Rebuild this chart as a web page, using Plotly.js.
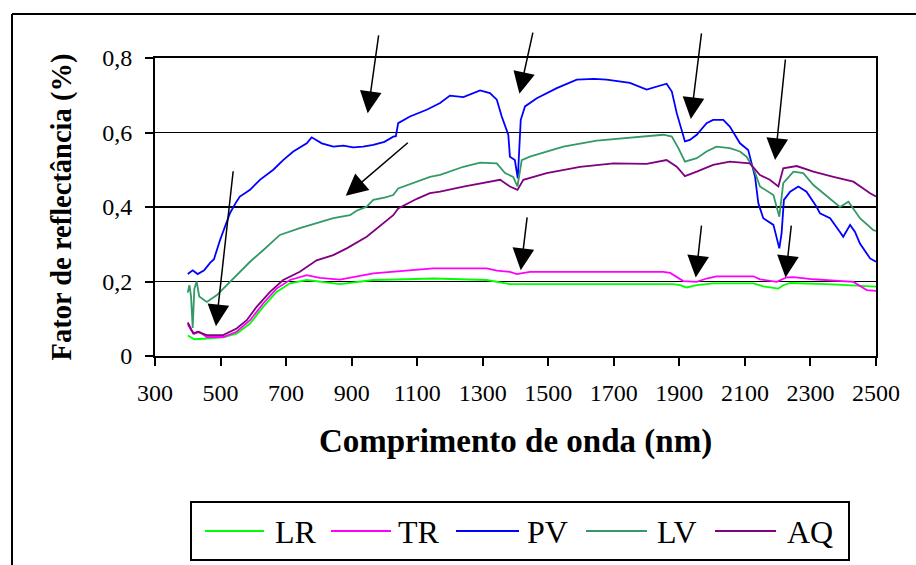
<!DOCTYPE html>
<html>
<head>
<meta charset="utf-8">
<script src="https://cdn.plot.ly/plotly-3.0.1.min.js"></script>
<style>
  html, body { margin: 0; padding: 0; background: #fff; }
  #chart { width: 916px; height: 565px; }
</style>
</head>
<body>
<div id="chart"></div>
<script>
// ---- Data ----
const seriesNames = ["LR", "TR", "PV", "LV", "AQ"];
const seriesColors = ["#00FF00", "#FF00FF", "#0000FF", "#339966", "#800080"];

const lrWl = [400, 410, 420, 458, 508, 549, 590, 630, 671, 712, 763, 864, 966, 1068, 1149, 1312, 1383, 1880, 1902, 1922, 1953, 2003, 2126, 2156, 2202, 2217, 2238, 2350, 2431, 2500];
const lrR  = [0.055, 0.05, 0.045, 0.047, 0.05, 0.06, 0.087, 0.132, 0.172, 0.195, 0.204, 0.193, 0.204, 0.206, 0.208, 0.204, 0.193, 0.193, 0.19, 0.184, 0.19, 0.195, 0.195, 0.187, 0.181, 0.19, 0.196, 0.193, 0.19, 0.186];

const trWl = [400, 410, 420, 435, 458, 508, 549, 590, 630, 671, 712, 763, 803, 864, 966, 1068, 1149, 1312, 1343, 1383, 1404, 1444, 1851, 1872, 1912, 1953, 1983, 2013, 2126, 2146, 2197, 2227, 2248, 2309, 2390, 2431, 2472, 2500];
const trR  = [0.085, 0.07, 0.06, 0.065, 0.051, 0.051, 0.065, 0.096, 0.141, 0.181, 0.204, 0.217, 0.21, 0.205, 0.222, 0.23, 0.235, 0.235, 0.229, 0.226, 0.22, 0.226, 0.226, 0.223, 0.201, 0.199, 0.208, 0.214, 0.214, 0.206, 0.199, 0.211, 0.212, 0.206, 0.202, 0.199, 0.177, 0.175];

const pvWl = [400, 415, 430, 450, 468, 480, 498, 515, 529, 549, 559, 590, 620, 661, 691, 722, 763, 778, 790, 809, 844, 875, 905, 935, 966, 1000, 1027, 1035, 1042, 1078, 1129, 1170, 1200, 1241, 1292, 1322, 1343, 1358, 1378, 1383, 1398, 1407, 1416, 1429, 1465, 1526, 1587, 1640, 1678, 1749, 1800, 1861, 1877, 1892, 1917, 1932, 1953, 1983, 2003, 2034, 2054, 2085, 2110, 2131, 2141, 2156, 2187, 2197, 2205, 2212, 2219, 2238, 2263, 2288, 2319, 2329, 2360, 2390, 2400, 2421, 2436, 2451, 2482, 2500];
const pvR  = [0.22, 0.23, 0.22, 0.23, 0.25, 0.26, 0.31, 0.35, 0.384, 0.415, 0.428, 0.446, 0.473, 0.50, 0.526, 0.549, 0.571, 0.587, 0.58, 0.571, 0.562, 0.565, 0.56, 0.562, 0.567, 0.575, 0.589, 0.59, 0.625, 0.643, 0.661, 0.679, 0.699, 0.695, 0.713, 0.706, 0.688, 0.643, 0.594, 0.535, 0.526, 0.477, 0.634, 0.670, 0.692, 0.719, 0.742, 0.744, 0.742, 0.733, 0.715, 0.731, 0.710, 0.652, 0.576, 0.580, 0.594, 0.625, 0.634, 0.634, 0.616, 0.571, 0.553, 0.481, 0.41, 0.37, 0.352, 0.316, 0.289, 0.33, 0.419, 0.441, 0.455, 0.441, 0.40, 0.383, 0.37, 0.333, 0.32, 0.352, 0.333, 0.302, 0.262, 0.253];

const lvWl = [400, 405, 410, 415, 420, 427, 435, 458, 488, 508, 549, 590, 630, 681, 742, 793, 844, 895, 915, 946, 966, 1000, 1027, 1042, 1088, 1139, 1170, 1200, 1241, 1292, 1343, 1368, 1393, 1406, 1419, 1444, 1546, 1648, 1749, 1851, 1877, 1897, 1917, 1953, 1983, 2013, 2054, 2085, 2105, 2126, 2146, 2187, 2205, 2217, 2248, 2278, 2309, 2350, 2390, 2416, 2441, 2451, 2492, 2500];
const lvR  = [0.17, 0.19, 0.16, 0.075, 0.18, 0.20, 0.16, 0.145, 0.163, 0.181, 0.217, 0.253, 0.284, 0.325, 0.343, 0.356, 0.37, 0.378, 0.39, 0.401, 0.419, 0.425, 0.432, 0.45, 0.464, 0.481, 0.486, 0.495, 0.508, 0.519, 0.517, 0.491, 0.481, 0.455, 0.526, 0.535, 0.562, 0.578, 0.585, 0.594, 0.589, 0.558, 0.522, 0.531, 0.549, 0.562, 0.558, 0.549, 0.535, 0.504, 0.455, 0.432, 0.374, 0.464, 0.495, 0.491, 0.459, 0.428, 0.40, 0.414, 0.383, 0.37, 0.338, 0.336];

const aqWl = [400, 410, 417, 430, 458, 508, 549, 580, 610, 651, 691, 742, 793, 844, 885, 946, 997, 1027, 1042, 1099, 1139, 1170, 1241, 1322, 1353, 1383, 1406, 1424, 1495, 1597, 1699, 1800, 1861, 1892, 1917, 1953, 2003, 2054, 2085, 2115, 2146, 2176, 2202, 2217, 2258, 2309, 2370, 2431, 2482, 2500];
const aqR  = [0.09, 0.07, 0.06, 0.065, 0.056, 0.056, 0.074, 0.096, 0.132, 0.172, 0.204, 0.226, 0.257, 0.271, 0.289, 0.32, 0.356, 0.378, 0.396, 0.422, 0.437, 0.441, 0.455, 0.468, 0.473, 0.455, 0.446, 0.473, 0.491, 0.508, 0.517, 0.516, 0.526, 0.508, 0.483, 0.495, 0.513, 0.522, 0.519, 0.517, 0.486, 0.473, 0.455, 0.504, 0.51, 0.495, 0.481, 0.468, 0.437, 0.428];

const xTickVals = [300, 500, 700, 900, 1100, 1300, 1500, 1700, 1900, 2100, 2300, 2500];
const yTickVals = [0, 0.2, 0.4, 0.6, 0.8];
const yTickText = ["0", "0,2", "0,4", "0,6", "0,8"];

// Arrow annotations: [tipX, tipY, tailX, tailY] in data units
const arrowTips  = [[949, 0.652], [882, 0.430], [486, 0.080], [1412, 0.704], [1935, 0.636], [2192, 0.526], [1416, 0.2305], [1950, 0.211], [2224, 0.211]];
const arrowTails = [[983, 0.865], [1076, 0.576], [539, 0.50], [1454, 0.872], [1968, 0.870], [2224, 0.80], [1436, 0.376], [1968, 0.354], [2242, 0.354]];

// ---- Layout geometry (pixels) ----
const W = 916, H = 565;
const M = { l: 155, r: 40, t: 58, b: 209 };
const pw = W - M.l - M.r, ph = H - M.t - M.b;
const px2x = p => (p - M.l) / pw;
const py2y = p => (H - M.b - p) / ph;

const FONT = "Liberation Serif, Times New Roman, serif";

const wls = [lrWl, trWl, pvWl, lvWl, aqWl];
const rs = [lrR, trR, pvR, lvR, aqR];
const traces = seriesNames.map((n, i) => ({
  type: "scatter", mode: "lines", name: n,
  x: wls[i], y: rs[i],
  line: { color: seriesColors[i], width: 1.8 },
  showlegend: false, hoverinfo: "x+y+name"
}));

const annotations = arrowTips.map((t, i) => ({
  x: t[0], y: t[1], xref: "x", yref: "y",
  ax: arrowTails[i][0], ay: arrowTails[i][1], axref: "x", ayref: "y",
  text: "", showarrow: true, arrowhead: 2, arrowsize: 2.9, arrowwidth: 1.5,
  arrowcolor: "#000", standoff: 0
}));

// Custom legend (box + line samples + labels)
const legLines = [[205, 264], [331, 391], [456, 519], [586, 647], [715, 776]];
const legText = [273, 396, 525, 655, 785];
const legY = 531;
const shapes = [
  // outer chart frame (left and top edges visible)
  { type: "line", xref: "paper", yref: "paper", x0: px2x(12), x1: px2x(12), y0: py2y(14), y1: py2y(570), line: { color: "#000", width: 2 } },
  { type: "line", xref: "paper", yref: "paper", x0: px2x(12), x1: px2x(920), y0: py2y(14), y1: py2y(14), line: { color: "#000", width: 2 } },
  // legend box
  { type: "rect", xref: "paper", yref: "paper", x0: px2x(191), x1: px2x(849), y0: py2y(502), y1: py2y(560), line: { color: "#000", width: 2 }, fillcolor: "rgba(0,0,0,0)" }
];
seriesNames.forEach((n, i) => {
  shapes.push({ type: "line", xref: "paper", yref: "paper", x0: px2x(legLines[i][0]), x1: px2x(legLines[i][1]), y0: py2y(legY), y1: py2y(legY), line: { color: seriesColors[i], width: 2 } });
  annotations.push({ xref: "paper", yref: "paper", x: px2x(legText[i]), y: py2y(legY + 1), xanchor: "left", yanchor: "middle", text: n, showarrow: false, font: { family: FONT, size: 32, color: "#000" } });
});

const layout = {
  width: W, height: H,
  margin: M,
  paper_bgcolor: "#fff", plot_bgcolor: "#fff",
  font: { family: FONT, color: "#000" },
  showlegend: false,
  xaxis: {
    range: [300, 2500], tickvals: xTickVals, ticks: "outside", ticklen: 8, tickwidth: 2, tickcolor: "#000",
    showline: true, linewidth: 2, linecolor: "#000", mirror: true, showgrid: false, zeroline: false,
    tickfont: { family: FONT, size: 24, color: "#000" }, ticklabelstandoff: 6,
    title: { text: "Comprimento de onda (nm)", font: { family: FONT, size: 33, weight: "bold", color: "#000" }, standoff: 24 }
  },
  yaxis: {
    range: [0, 0.8], tickvals: yTickVals, ticktext: yTickText, ticks: "outside", ticklen: 8, tickwidth: 2, tickcolor: "#000",
    showline: true, linewidth: 2, linecolor: "#000", mirror: true, showgrid: true, gridcolor: "#000", gridwidth: 1.8, zeroline: false,
    tickfont: { family: FONT, size: 24, color: "#000" }, ticklabelstandoff: 8,
    title: { text: "Fator de reflectância (%)", font: { family: FONT, size: 28.5, weight: "bold", color: "#000" }, standoff: 22 }
  },
  annotations: annotations,
  shapes: shapes
};

Plotly.newPlot("chart", traces, layout, { staticPlot: true, displayModeBar: false });
</script>
</body>
</html>
